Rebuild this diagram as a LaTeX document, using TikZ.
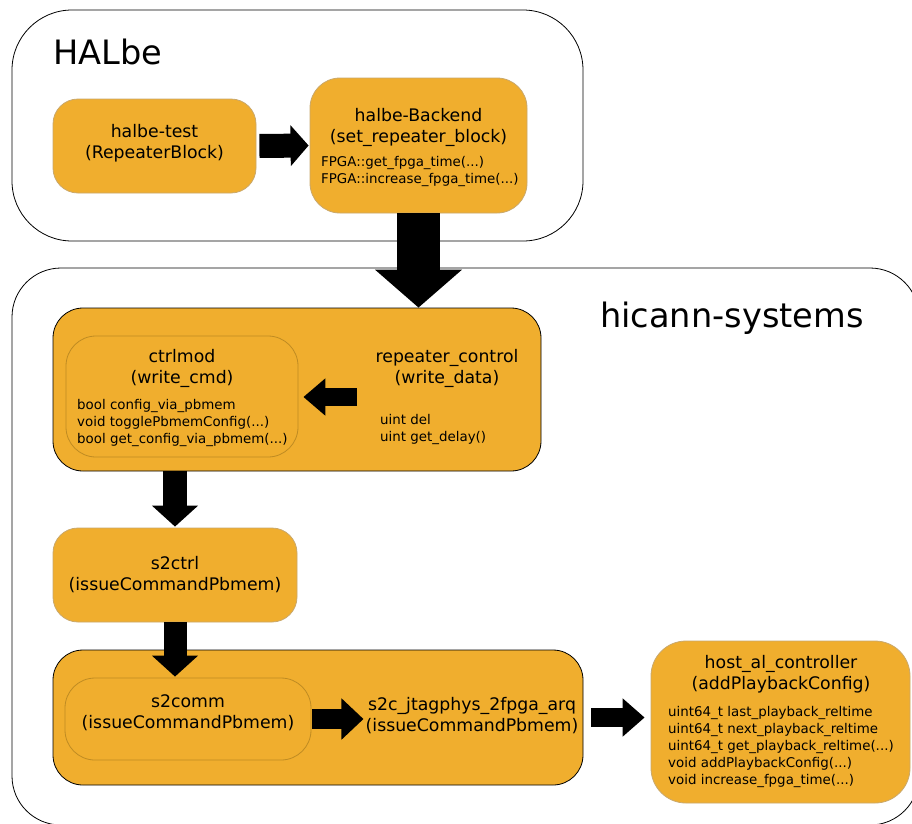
\documentclass[tikz,border=0pt]{standalone}
\usepackage{fontspec}
\setmainfont{DejaVu Sans}
\usepackage{xcolor}
\usetikzlibrary{arrows.meta, positioning}

\definecolor{boxfill}{HTML}{F0AE2E}
\definecolor{boxline}{HTML}{C9A86C}
\definecolor{innerline}{HTML}{BF8B22}
\newcommand{\tdots}{...}

\begin{document}
\begin{tikzpicture}[x=1pt, y=-1pt,
    frame/.style={draw=black, line width=0.8pt, fill=white, rounded corners=#1},
    box/.style={draw=boxline, line width=0.8pt, fill=boxfill, rounded corners=#1},
    box/.default=25pt,
    outer/.style={draw=black, line width=0.8pt, fill=boxfill, rounded corners=30pt},
    inner/.style={draw=innerline, line width=0.8pt, fill=boxfill, rounded corners=30pt},
    title/.style={align=center, inner sep=0pt, font=\fontsize{17.3}{21}\selectfont},
    attr/.style={inner sep=0pt, anchor=base west, font=\fontsize{13.4}{17}\selectfont},
    layer/.style={inner sep=0pt, anchor=base west, font=\fontsize{33.6}{40}\selectfont},
    fat/.style n args={3}{line width=#1pt, -{Triangle[length=#3pt, width=#2pt]}},
]
    \clip (0,0) rectangle (912,823);

    % HALbe
    \node[frame=60pt, minimum width=571pt, minimum height=231pt] (halbe) at (297.5,125.5) {};
    \node[layer] (halbelbl) at (53,64) {HALbe};
    \node[box, minimum width=203pt, minimum height=94pt] (halbetest) at (154.5,146) {};
    \node[title] (halbetesttxt) at (154.5,143) {halbe-test\\(RepeaterBlock)};
    \node[box=30pt, minimum width=217pt, minimum height=135pt] (backend) at (418.5,145.5) {};
    \node[title] (backendtxt) at (418.5,127) {halbe-Backend\\(set\_repeater\_block)};
    \foreach \t [count=\i from 0] in {FPGA::get\_fpga\_time(\tdots), FPGA::increase\_fpga\_time(\tdots)}
        \node[attr] (backend-a\i) at (321,166+17*\i) {\t};

    % hicann-systems
    \node[frame=49pt, minimum width=907pt, minimum height=557pt] (hicann) at (465.5,546.5) {};
    \node[layer] (hicannlbl) at (600,327) {hicann-systems};

    % repeater_control / ctrlmod
    \node[outer, minimum width=488pt, minimum height=163pt] (repbox) at (297,389.5) {};
    \node[inner, minimum width=232pt, minimum height=121pt] (ctrlmod) at (182,396.5) {};
    \node[title] (ctrlmodtxt) at (182,368.5) {ctrlmod\\(write\_cmd)};
    \foreach \t [count=\i from 0] in {bool config\_via\_pbmem, void togglePbmemConfig(\tdots), bool get\_config\_via\_pbmem(\tdots)}
        \node[attr] (ctrlmod-a\i) at (77,409+17*\i) {\t};
    \node[title] (repctrl) at (447,368) {repeater\_control\\(write\_data)};
    \foreach \t [count=\i from 0] in {uint del, uint get\_delay()}
        \node[attr] (repctrl-a\i) at (380,424+17*\i) {\t};
    \coordinate (repout) at (357,397);

    % s2ctrl
    \node[box, minimum width=244pt, minimum height=94pt] (s2ctrl) at (175,575) {};
    \node[title] (s2ctrltxt) at (175,574.5) {s2ctrl\\(issueCommandPbmem)};

    % s2comm / jtag
    \node[outer, minimum width=530pt, minimum height=135pt] (commbox) at (318,717.5) {};
    \node[inner, minimum width=246pt, minimum height=82pt] (s2comm) at (188,719) {};
    \node[title] (s2commtxt) at (188,712.5) {s2comm\\(issueCommandPbmem)};
    \node[title] (jtag) at (472,716) {s2c\_jtagphys\_2fpga\_arq\\(issueCommandPbmem)};

    % host_al_controller
    \node[box=35pt, minimum width=259pt, minimum height=162pt] (hostal) at (780.5,722) {};
    \node[title] (hostaltxt) at (781,674.5) {host\_al\_controller\\(addPlaybackConfig)};
    \foreach \t [count=\i from 0] in {uint64\_t last\_playback\_reltime, uint64\_t next\_playback\_reltime, uint64\_t get\_playback\_reltime(\tdots), void addPlaybackConfig(\tdots), void increase\_fpga\_time(\tdots)}
        \node[attr] (hostal-a\i) at (668,716+17*\i) {\t};

    % Pfeile
    \draw[fat={24}{40}{18}, shorten <=3pt, shorten >=1pt] (halbetest.east) -- (backend.west);
    \draw[fat={43}{85}{38}] (backend.south) -- (backend.south |- repbox.north);
    \draw[fat={18}{36}{22}, shorten >=5pt] (repout) -- (repout -| ctrlmod.east);
    \draw[fat={24}{45}{21}, shorten >=1pt] (s2ctrl.north |- repbox.south) -- (s2ctrl.north);
    \draw[fat={23}{45}{21}, shorten >=1pt] (s2ctrl.south) -- (s2ctrl.south |- s2comm.north);
    \draw[fat={20}{40}{22}, shorten <=1pt, shorten >=2pt] (s2comm.east) -- (s2comm.east -| jtag.west);
    \draw[fat={19}{37}{22}, shorten <=8pt, shorten >=6pt] (commbox.east) -- (commbox.east -| hostal.west);
\end{tikzpicture}
\end{document}
